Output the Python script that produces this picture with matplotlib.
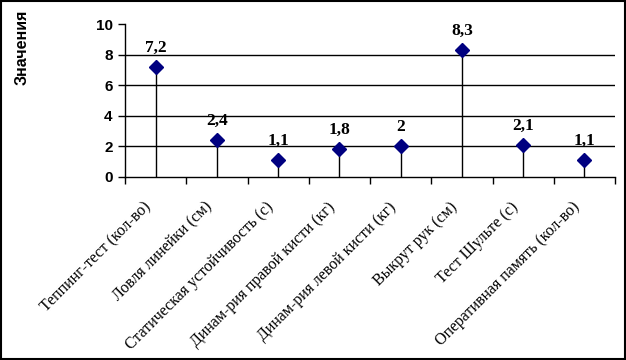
import matplotlib
matplotlib.use('Agg')
import matplotlib.pyplot as plt
from matplotlib.patches import Rectangle
from matplotlib.transforms import ScaledTranslation

# Chart data
categories = ['Теппинг-тест (кол-во)', 'Ловля линейки (см)', 'Статическая устойчивость (с)',
              'Динам-рия правой кисти (кг)', 'Динам-рия левой кисти (кг)', 'Выкрут рук (см)',
              'Тест Шульте (с)', 'Оперативная память (кол-во)']
values = [7.2, 2.4, 1.1, 1.8, 2, 8.3, 2.1, 1.1]
value_labels = ['7,2', '2,4', '1,1', '1,8', '2', '8,3', '2,1', '1,1']
y_ticks = [0, 2, 4, 6, 8, 10]

fig = plt.figure(figsize=(6.26, 3.6), dpi=100)
ax = fig.add_axes([125/626, 1 - 177/360, 490/626, 153/360])

x = list(range(len(categories)))

# Gridlines (no line at top)
for yv in y_ticks[1:-1]:
    ax.axhline(yv, color='black', lw=1, zorder=1)

# Drop lines and diamond markers
ax.vlines(x, 0, values, color='black', lw=1, zorder=2)
ax.plot(x, values, linestyle='none', marker='D', markersize=7.2,
        color='#000080', markeredgecolor='#000080', zorder=3)

# Data labels
for xi, v, lab in zip(x, values, value_labels):
    ax.annotate(lab, (xi, v), xytext=(0, 11), textcoords='offset points',
                ha='center', va='baseline', fontsize=12.5, fontweight='bold',
                family='Liberation Serif')

ax.set_xlim(-0.5, len(categories) - 0.5)
ax.set_ylim(0, 10)

# y axis
ax.set_yticks(y_ticks)
ax.set_yticklabels([str(t) for t in y_ticks], fontsize=11, fontweight='bold',
                   family='Liberation Sans')
ax.tick_params(axis='y', direction='out', length=5, width=1, pad=4)

# x axis: ticks between categories, labels at centers
ax.set_xticks([i - 0.5 for i in range(len(categories) + 1)])
ax.set_xticklabels([])
ax.tick_params(axis='x', which='major', direction='out', length=5, width=1)
ax.set_xticks(x, minor=True)
ax.set_xticklabels(categories, minor=True, rotation=45, ha='right', va='center',
                   rotation_mode='anchor', fontsize=11.5, family='Liberation Serif')
ax.tick_params(axis='x', which='minor', length=0, pad=20)
for lbl in ax.get_xticklabels(minor=True):
    lbl.set_transform(lbl.get_transform() + ScaledTranslation(-5/72, 0, fig.dpi_scale_trans))

for s in ['top', 'right']:
    ax.spines[s].set_visible(False)
ax.spines['left'].set_linewidth(1)
ax.spines['bottom'].set_linewidth(1)

# Axis title
fig.text(22/626, 1 - 47/360, 'Значения', rotation=90, ha='center', va='center',
         fontsize=11.5, fontweight='bold', family='Liberation Sans')

# Outer frame
fig.patches.append(Rectangle((0.001, 0.002), 0.997, 0.996, transform=fig.transFigure,
                             fill=False, edgecolor='black', lw=1.5))

fig.savefig('out.png', dpi=100)
